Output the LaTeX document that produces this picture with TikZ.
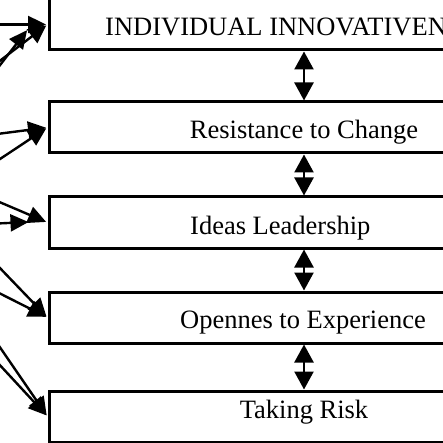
\documentclass[tikz,border=0pt]{standalone}
\usepackage{fontspec}
\setmainfont{Liberation Serif}
\usetikzlibrary{arrows.meta}
\begin{document}
\begin{tikzpicture}[x=1pt,y=1pt,
  box/.style={draw, line width=3pt, minimum width=510pt, minimum height=51pt, inner sep=0pt},
  lbl/.style={font=\fontsize{26.5}{30}\selectfont, inner sep=0pt, anchor=base},
  feed/.style={line width=2.4pt, shorten >=1.5pt, -{Triangle[length=18pt,width=17pt]}},
  link/.style={line width=2.4pt, {Triangle[length=18pt,width=19pt]}-{Triangle[length=18pt,width=19pt]}}]
\useasboundingbox (0,0) rectangle (443,-443);
\clip (0,0) rectangle (443,-443);
% boxes
\node[box] (b1) at (304,-24.5) {};
\node[box] (b2) at (304,-127.5) {};
\node[box] (b3) at (304,-222.5) {};
\node[box] (b4) at (304,-317.5) {};
\node[box] (b5) at (304,-416.5) {};
% labels
\node[lbl, anchor=base west] (t1) at (105,-36) {INDIVIDUAL INNOVATIVENESS};
\node[lbl] (t2) at (304,-139) {Resistance to Change};
\node[lbl, anchor=base west] (t3) at (190,-234) {Ideas Leadership};
\node[lbl] (t4) at (303,-328) {Opennes to Experience};
\node[lbl] (t5) at (304,-418) {Taking Risk};
% vertical links
\draw[link] (b1) -- (b2);
\draw[link] (b2) -- (b3);
\draw[link] (b3) -- (b4);
\draw[link] (b4) -- (b5);
% incoming arrows
\coordinate (s1a) at (-3,-24.5);
\coordinate (s1b) at (-3,-63);
\coordinate (s1c) at (-3,-69);
\coordinate (e1c) at (28,-29);
\coordinate (s2a) at (-3,-134);
\coordinate (s2b) at (-3,-161);
\coordinate (s3a) at (-3,-201);
\coordinate (s3b) at (-3,-223.5);
\coordinate (e3b) at (30,-222);
\coordinate (s4a) at (-3,-265);
\coordinate (s4b) at (-3,-292);
\coordinate (s5a) at (-3,-343);
\coordinate (s5b) at (-3,-362);
\draw[feed] (s1a) -- (b1.west);
\draw[feed] (s1b) -- (b1.west);
\draw[feed] (s1c) -- (e1c);
\draw[feed] (s2a) -- (b2.west);
\draw[feed] (s2b) -- (b2.west);
\draw[feed] (s3a) -- (b3.west);
\draw[feed] (s3b) -- (e3b);
\draw[feed] (s4a) -- (b4.west);
\draw[feed] (s4b) -- (b4.west);
\draw[feed] (s5a) -- (b5.west);
\draw[feed] (s5b) -- (b5.west);
\end{tikzpicture}
\end{document}
